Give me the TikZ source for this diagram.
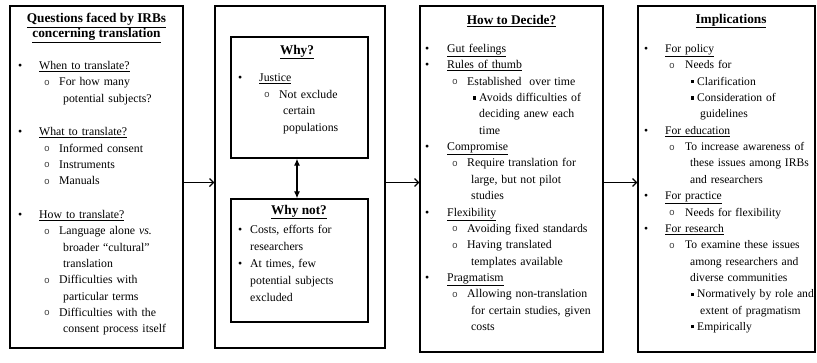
\documentclass[tikz,border=0pt]{standalone}
\usepackage{fontspec}
\setmainfont{Liberation Serif}
\newfontfamily\monofnt{Liberation Mono}
\usetikzlibrary{arrows.meta}
\newcommand\bA{\textbullet}
\newcommand\bB{{\color{black!75}\raisebox{0.6pt}{\fontsize{9.5}{9.5}\monofnt o}}}
\newcommand\bC{\raisebox{2pt}{\rule{3.2pt}{3.2pt}}}
\newcommand\Lrow[4]{\noindent\makebox[0pt][l]{\hspace*{#1pt}#2}\hspace*{#3pt}#4\par}
\newcommand\Gap{\vspace{17.5pt}}
\newcommand\U[1]{\underline{#1}}
\tikzset{
  box/.style={draw, line width=1.3pt, inner sep=0pt},
  body/.style={anchor=base west, inner sep=0pt, text width=200pt, align=left,
    font=\fontsize{11.8}{16.3}\selectfont},
  ttl/.style={inner sep=0pt, align=center, font=\fontsize{13.3}{15.5}\selectfont\bfseries},
  arr/.style={line width=1.2pt, -{Straight Barb[length=4pt,width=8pt,line width=1.2pt]}},
  darr/.style={line width=1.2pt, {Latex[length=7pt,width=6pt]}-{Latex[length=7pt,width=6pt]}}
}
\begin{document}
\begin{tikzpicture}[x=1pt,y=-1pt]
\useasboundingbox (0,0) rectangle (817,362);
% outer boxes
\node[box, minimum width=173pt, minimum height=342pt] (b1) at (96.5,177) {};
\node[box, minimum width=170pt, minimum height=342pt] (b2) at (300,177) {};
\node[box, minimum width=183pt, minimum height=346pt] (b3) at (511.5,179) {};
\node[box, minimum width=177pt, minimum height=346pt] (b4) at (726.5,179) {};
% inner boxes
\node[box, minimum width=137pt, minimum height=121pt] (why) at (299.5,97.5) {};
\node[box, minimum width=137pt, minimum height=123pt] (whynot) at (299.5,260.5) {};
% titles
\node[ttl] (t1) at (96.5,28) {\U{Questions faced by IRBs}\\[0pt]\U{concerning translation}};
\node[ttl] (t2) at (297,52) {\U{Why?}};
\node[ttl] (t2b) at (299,212) {\U{Why not?}};
\node[ttl] (t3) at (511.5,21) {\U{How to Decide?}};
\node[ttl] (t4) at (731,21) {\U{Implications}};
% box 1 body
\node[body] (c1) at (10,69.5) {%
\Lrow{8}{\bA}{29}{\U{When to translate?}}
\Lrow{34}{\bB}{49}{For how many}
\Lrow{0}{}{53}{potential subjects?}
\Gap
\Lrow{8}{\bA}{29}{\U{What to translate?}}
\Lrow{34}{\bB}{49}{Informed consent}
\Lrow{34}{\bB}{49}{Instruments}
\Lrow{34}{\bB}{49}{Manuals}
\Gap
\Lrow{8}{\bA}{29}{\U{How to translate?}}
\Lrow{34}{\bB}{49}{Language alone \textit{vs.}}
\Lrow{0}{}{53}{broader \textquotedblleft cultural\textquotedblright}
\Lrow{0}{}{53}{translation}
\Lrow{34}{\bB}{49}{Difficulties with}
\Lrow{0}{}{53}{particular terms}
\Lrow{34}{\bB}{49}{Difficulties with the}
\Lrow{0}{}{53}{consent process itself}};
% why body
\node[body, font=\fontsize{11.8}{16.5}\selectfont] (c2) at (231,81.5) {%
\Lrow{7}{\bA}{28}{\U{Justice}}
\Lrow{33}{\bB}{48}{Not exclude}
\Lrow{0}{}{52}{certain}
\Lrow{0}{}{52}{populations}};
% why not body
\node[body, font=\fontsize{11.8}{17}\selectfont] (c3) at (231,233.5) {%
\Lrow{7}{\bA}{19}{Costs, efforts for}
\Lrow{0}{}{19}{researchers}
\Lrow{7}{\bA}{19}{At times, few}
\Lrow{0}{}{19}{potential subjects}
\Lrow{0}{}{19}{excluded}};
% box 3 body
\node[body, font=\fontsize{11.8}{16.35}\selectfont] (c4) at (420,52.5) {%
\Lrow{5}{\bA}{27}{\U{Gut feelings}}
\Lrow{5}{\bA}{27}{\U{Rules of thumb}}
\Lrow{32}{\bB}{47}{Established\ \ over time}
\Lrow{52.5}{\bC}{59}{Avoids difficulties of}
\Lrow{0}{}{59}{deciding anew each}
\Lrow{0}{}{59}{time}
\Lrow{5}{\bA}{27}{\U{Compromise}}
\Lrow{32}{\bB}{47}{Require translation for}
\Lrow{0}{}{51}{large, but not pilot}
\Lrow{0}{}{51}{studies}
\Lrow{5}{\bA}{27}{\U{Flexibility}}
\Lrow{32}{\bB}{47}{Avoiding fixed standards}
\Lrow{32}{\bB}{47}{Having translated}
\Lrow{0}{}{51}{templates available}
\Lrow{5}{\bA}{27}{\U{Pragmatism}}
\Lrow{32}{\bB}{47}{Allowing non-translation}
\Lrow{0}{}{51}{for certain studies, given}
\Lrow{0}{}{51}{costs}};
% box 4 body
\node[body, font=\fontsize{11.6}{16.35}\selectfont] (c5) at (638,52.5) {%
\Lrow{6}{\bA}{27}{\U{For policy}}
\Lrow{31}{\bB}{47}{Needs for}
\Lrow{52.5}{\bC}{59}{Clarification}
\Lrow{52.5}{\bC}{59}{Consideration of}
\Lrow{0}{}{62}{guidelines}
\Lrow{6}{\bA}{27}{\U{For education}}
\Lrow{31}{\bB}{47}{To increase awareness of}
\Lrow{0}{}{52}{these issues among IRBs}
\Lrow{0}{}{52}{and researchers}
\Lrow{6}{\bA}{27}{\U{For practice}}
\Lrow{31}{\bB}{47}{Needs for flexibility}
\Lrow{6}{\bA}{27}{\U{For research}}
\Lrow{31}{\bB}{47}{To examine these issues}
\Lrow{0}{}{52}{among researchers and}
\Lrow{0}{}{52}{diverse communities}
\Lrow{52.5}{\bC}{59}{Normatively by role and}
\Lrow{0}{}{62}{extent of pragmatism}
\Lrow{52.5}{\bC}{59}{Empirically}};
% connectors
\draw[arr] ([yshift=-5.5pt]b1.east) -- ([yshift=-5.5pt]b2.west);
\draw[arr] ([yshift=-5.5pt]b2.east) -- ([yshift=-3.5pt]b3.west);
\draw[arr] ([yshift=-3.5pt]b3.east) -- ([yshift=-3.5pt]b4.west);
\draw[darr] (why.south -| 297,0) -- (whynot.north -| 297,0);
\end{tikzpicture}
\end{document}
